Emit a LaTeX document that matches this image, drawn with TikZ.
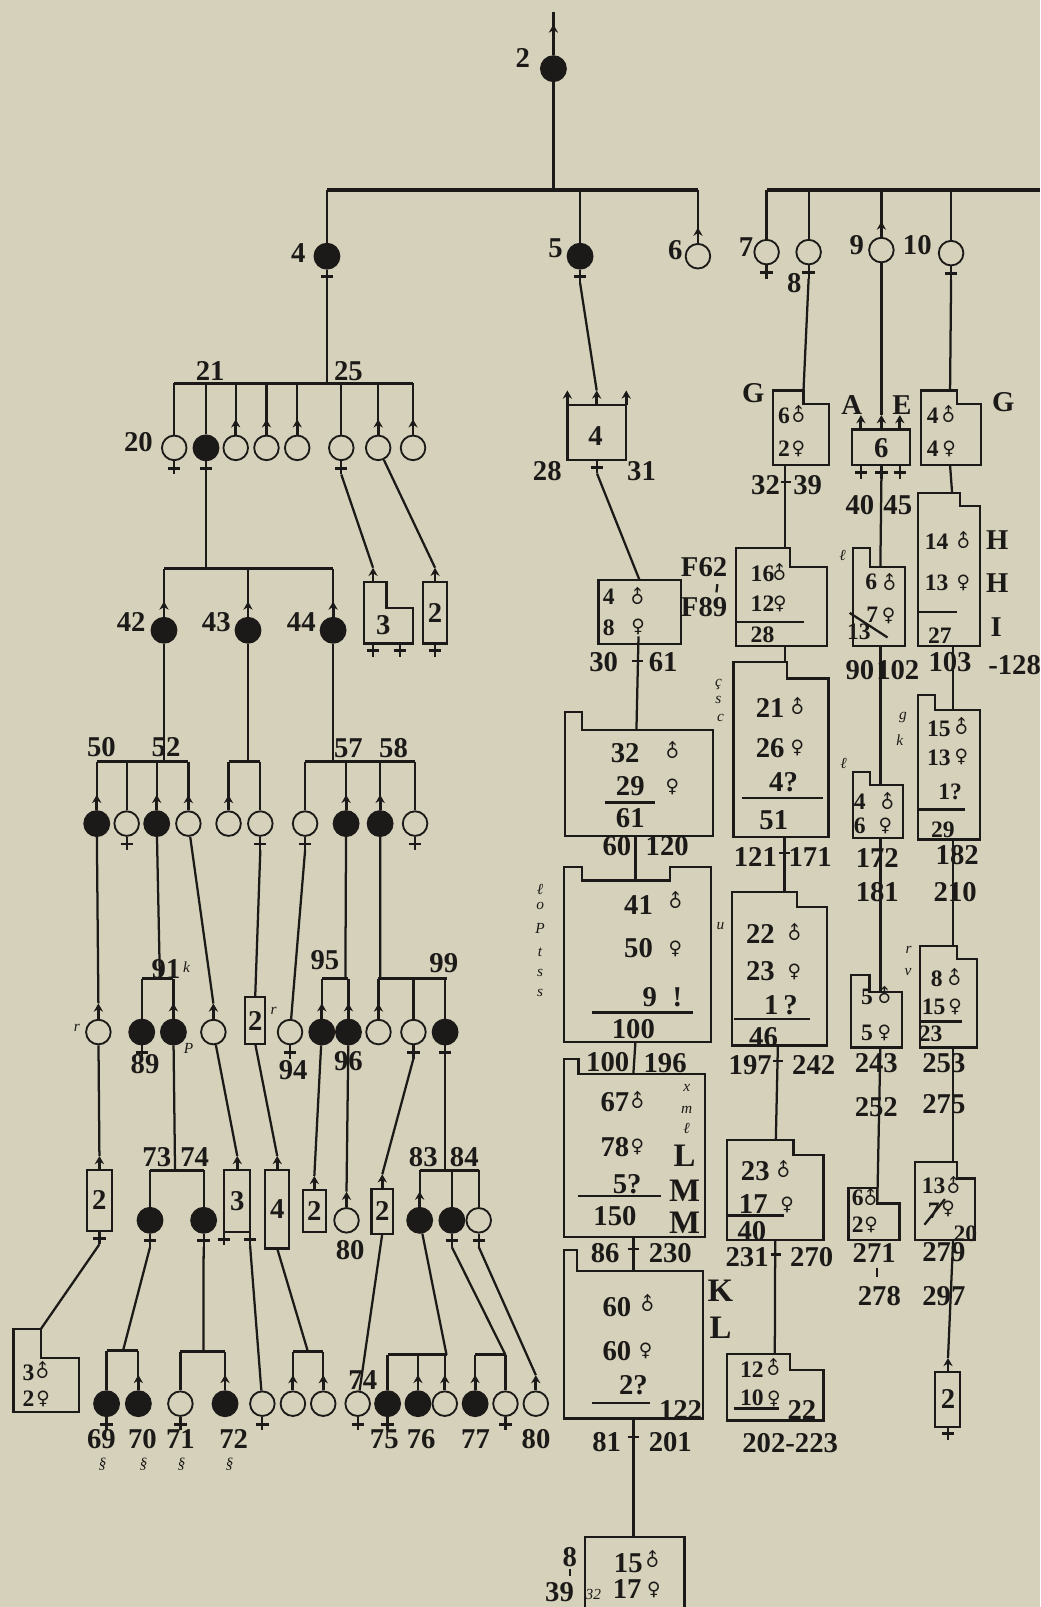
\documentclass[tikz,border=0pt]{standalone}
\usepackage{graphicx}
\usepackage{fontspec}
\setmainfont{Liberation Serif}
\newfontfamily\symf{DejaVu Sans}
\usetikzlibrary{arrows.meta}
\definecolor{bg}{RGB}{213,209,186}
\definecolor{ink}{RGB}{28,26,24}
\newcommand\numf{\bfseries\fontsize{14}{14}\selectfont}
\newcommand\smnf{\bfseries\fontsize{11.5}{11.5}\selectfont}
\newcommand\bigf{\bfseries\fontsize{16}{16}\selectfont}
\newcommand\tinyf{\itshape\fontsize{7.5}{7.5}\selectfont}
\newcommand\msym{\rotatebox[origin=c]{45}{\symf\fontsize{9}{9}\selectfont ♂}}
\newcommand\fsym{{\symf\fontsize{9}{9}\selectfont ♀}}
\newcounter{lbl}
\newcommand\T[3][num]{\stepcounter{lbl}\node[#1] (t\arabic{lbl}) at (#2) {#3};}
\newcommand\Mal[1]{\draw[marr] (#1.north) -- ++(0,-15) coordinate (#1-m);}
\newcommand\Fem[1]{\draw[ln] (#1.south) -- ++(0,13) coordinate (#1-f); \draw[cross] (#1.south) ++(-6,7) -- ++(12,0);}
\newcommand\MalAt[2]{\draw[marr] (#1) -- ++(0,-14) coordinate (#2);}
\newcommand\FemAt[2]{\draw[ln] (#1) -- ++(0,13) coordinate (#2); \draw[cross] (#1) ++(-6,7) -- ++(12,0);}
\newcommand\Tick[1]{\draw[ln] (#1) ++(-5,0) -- ++(10,0);}
\begin{document}
\begin{tikzpicture}[x=0.5pt,y=-0.5pt,
 ln/.style={draw=ink,line width=1.1pt},
 cross/.style={draw=ink,line width=1.4pt},
 bar/.style={draw=ink,line width=1.4pt},
 tbar/.style={draw=ink,line width=1.9pt},
 bx/.style={draw=ink,line width=1.1pt,line join=miter},
 ul/.style={draw=ink,line width=1.2pt},
 af/.style={circle,draw=ink,fill=ink,minimum size=12.5pt,inner sep=0pt,line width=0.6pt},
 uf/.style={circle,draw=ink,fill=bg,minimum size=12pt,inner sep=0pt,line width=0.9pt},
 num/.style={font=\numf,text=ink,inner sep=0pt},
 sm/.style={font=\smnf,text=ink,inner sep=0pt},
 sym/.style={text=ink,inner sep=0pt},
 big/.style={font=\bigf,text=ink,inner sep=0pt},
 tn/.style={font=\tinyf,text=ink,inner sep=0pt},
 marr/.style={draw=ink,line width=1.4pt,-{Stealth[length=4pt,width=4.5pt]}},
]
\fill[bg] (0,0) rectangle (1015,1568);
\useasboundingbox (0,0) rectangle (1015,1568);

% ================= TOP =================
\node[af] (n2) at (540,67) {};
\node[af] (n4) at (319,250) {};
\node[af] (n5) at (566,250) {};
\node[uf] (n6) at (681,250) {};
\node[uf] (n7) at (748,246) {};
\node[uf] (n8) at (789,246) {};
\node[uf] (n9) at (860,244) {};
\node[uf] (n10) at (928,247) {};
\coordinate (top) at (540,12);
\draw[ln] (top) -- (n2);
\draw[marr] (n2.north) -- ++(0,-30);
\coordinate (b1L) at (319,185); \coordinate (b1R) at (681,185); \coordinate (b1m) at (540,185);
\draw[tbar] (b1L) -- (b1R);
\draw[ln] (n2) -- (b1m);
\coordinate (b2L) at (748,185); \coordinate (b2R) at (1015,185);
\draw[tbar] (b2L) -- (b2R);
\foreach \n in {n4,n5,n6}{\draw[ln] (\n |- b1L) -- (\n);}
\foreach \n in {n7,n8,n9,n10}{\draw[ln] (\n |- b2L) -- (\n);}
\Mal{n6} \Mal{n9}
\Fem{n4} \Fem{n5} \Fem{n7} \Fem{n8} \Fem{n10}
\T{510,57}{2} \T{291,247}{4} \T{542,242}{5} \T{659,244}{6}
\T{728,241}{7} \T{775,276}{8} \T{836,239}{9} \T{895,239}{10}

% ================= LEFT: children of 4 =================
\node[uf] (c20) at (170,437) {};
\node[af] (c21) at (201,437) {};
\node[uf] (c22) at (230,437) {};
\node[uf] (c23) at (260,437) {};
\node[uf] (c24) at (290,437) {};
\node[uf] (c25) at (333,437) {};
\node[uf] (c26) at (369,437) {};
\node[uf] (c27) at (403,437) {};
\coordinate (b3L) at (170,374); \coordinate (b3R) at (403,374); \coordinate (b3m) at (319,374);
\draw[bar] (b3L) -- (b3R);
\draw[ln] (n4-f) -- (b3m);
\foreach \n in {c20,c21,c22,c23,c24,c25,c26,c27}{\draw[ln] (\n |- b3L) -- (\n);}
\Mal{c22} \Mal{c23} \Mal{c24} \Mal{c26} \Mal{c27}
\Fem{c20} \Fem{c21} \Fem{c25}
\T{135,431}{20} \T{205,362}{21} \T{340,362}{25}

% children of 21
\node[af] (c42) at (160,615) {};
\node[af] (c43) at (242,615) {};
\node[af] (c44) at (325,615) {};
\coordinate (b4L) at (160,555); \coordinate (b4R) at (325,555);
\draw[bar] (b4L) -- (b4R);
\draw[ln] (c21-f) -- (c21 |- b4L);
\foreach \n in {c42,c43,c44}{\draw[ln] (\n |- b4L) -- (\n); \Mal{\n}}
\T{128,607}{42} \T{211,607}{43} \T{294,607}{44}

% box 3 and box 2 (from 25 group)
\draw[bx] (355,568) -- (377,568) -- (377,593) -- (403,593) -- (403,628) -- (355,628) -- cycle;
\coordinate (bx3t) at (364,568);
\MalAt{bx3t}{bx3m}
\FemAt{364,628}{bx3f1} \FemAt{390,628}{bx3f2}
\draw[ln] (c25-f) -- (bx3m);
\T{374,610}{3}
\draw[bx] (413,568) rectangle (436,628);
\MalAt{424.5,568}{bx2am}
\FemAt{424.5,628}{bx2af}
\draw[ln] (c26) -- (bx2am);
\T{424.5,598}{2}

% ================= row of 50..58 =================
\node[af] (c50a) at (94.4,803.6) {};
\node[uf] (c50b) at (123.6,803.6) {};
\node[af] (c50c) at (152.9,803.6) {};
\node[uf] (c50d) at (183.8,803.6) {};
\node[uf] (c43a) at (223,803.6) {};
\node[uf] (c43b) at (254,803.6) {};
\node[uf] (c57a) at (297.7,803.6) {};
\node[af] (c57b) at (337.7,803.6) {};
\node[af] (c57c) at (370.9,803.6) {};
\node[uf] (c57d) at (405,803.6) {};
\coordinate (b50L) at (94.4,743.4); \coordinate (b50R) at (183.8,743.4);
\coordinate (b43L) at (223,743.4); \coordinate (b43R) at (254,743.4);
\coordinate (b57L) at (297.7,743.4); \coordinate (b57R) at (405,743.4);
\draw[bar] (b50L) -- (b50R); \draw[bar] (b43L) -- (b43R); \draw[bar] (b57L) -- (b57R);
\draw[ln] (c42) -- (c42 |- b50L);
\draw[ln] (c43) -- (c43 |- b43L);
\draw[ln] (c44) -- (c44 |- b57L);
\foreach \n in {c50a,c50b,c50c,c50d,c43a,c43b,c57a,c57b,c57c,c57d}{\draw[ln] (\n |- b50L) -- (\n);}
\Mal{c50a} \Mal{c50c} \Mal{c50d} \Mal{c43a} \Mal{c57b} \Mal{c57c}
\Fem{c50b} \Fem{c43b} \Fem{c57a} \Fem{c57d}
\T{99,729}{50} \T{162,729}{52} \T{340,730}{57} \T{384,730}{58}

% ================= row ~1007 =================
\node[uf] (cr) at (96,1007) {};
\node[af] (c89) at (138.3,1007) {};
\node[af] (cP) at (169.2,1007) {};
\node[uf] (c208) at (208.2,1007) {};
\node[uf] (c94) at (283,1007) {};
\node[af] (c95a) at (314,1007) {};
\node[af] (c96) at (340,1007) {};
\node[uf] (c99a) at (369.3,1007) {};
\node[uf] (c99b) at (403.4,1007) {};
\node[af] (c99c) at (434.3,1007) {};
\Mal{cr} \Mal{cP} \Mal{c208} \Mal{c95a} \Mal{c96} \Mal{c99a}
\Fem{c89} \Fem{c94} \Fem{c99b} \Fem{c99c}
\coordinate (b91L) at (138.3,954.9); \coordinate (b91R) at (169.2,954.9); \coordinate (b91m) at (156,954.9);
\coordinate (b95L) at (314,954.9); \coordinate (b95R) at (340,954.9); \coordinate (b95m) at (337,954.9);
\coordinate (b99L) at (369.3,954.9); \coordinate (b99R) at (436,954.9); \coordinate (b99m) at (371,954.9);
\draw[bar] (b91L) -- (b91R); \draw[bar] (b95L) -- (b95R); \draw[bar] (b99L) -- (b99R);
\draw[ln] (c50c) -- (b91m);
\draw[ln] (c57b) -- (b95m);
\draw[ln] (c57c) -- (b99m);
\foreach \n in {c89,cP,c95a,c96,c99a,c99b,c99c}{\draw[ln] (\n |- b91L) -- (\n);}
\draw[ln] (c50a) -- (cr-m);
\draw[ln] (c50d) -- (c208-m);
\draw[ln] (c57a-f) -- (c94);
\draw[bx] (239.1,972.7) rectangle (258.6,1018.3);
\coordinate (b2mt) at (249,972.7); \coordinate (b2mb) at (249,1018.3);
\draw[ln] (c43b-f) -- (b2mt);
\T{249,996}{2}
\T[tn]{75,1003}{r} \T[tn]{267,986}{r} \T[tn]{184,1023}{P}
\T{141.5,1038}{89} \T{286,1044}{94} \T{317,937}{95} \T{340,1035}{96} \T{433,940}{99}
\T{162,946}{91} \T[tn]{182,944}{k}

% ================= row ~1142..1218 =================
\draw[bx] (84.7,1141.9) rectangle (109.1,1201.1);
\MalAt{97,1141.9}{b2Lm} \FemAt{97,1201.1}{b2Lf}
\draw[ln] (cr) -- (b2Lm);
\T{97,1171}{2}
\draw[bx] (13.2,1377.7) -- (13.2,1296.4) -- (40.1,1296.4) -- (40.1,1324.7) -- (77.4,1324.7) -- (77.4,1377.7) -- cycle;
\coordinate (b32Lt) at (40.1,1296.4);
\draw[ln] (b2Lf) -- (b32Lt);
\T[sm]{27.9,1339}{3} \T[sym]{42,1338}{\msym}
\T[sm]{27.9,1365}{2} \T[sym]{42,1365}{\fsym}

\node[af] (c73) at (146.4,1190.7) {};
\node[af] (c74) at (198.7,1190.7) {};
\coordinate (b73L) at (146.4,1141.9); \coordinate (b73R) at (198.7,1141.9); \coordinate (b73m) at (170.8,1141.9);
\draw[bar] (b73L) -- (b73R);
\draw[ln] (cP) -- (b73m);
\draw[ln] (c73 |- b73L) -- (c73); \draw[ln] (c74 |- b73L) -- (c74);
\Fem{c73} \Fem{c74}
\T{153,1129}{73} \T{190,1129}{74}

\draw[bx] (218.9,1141.9) rectangle (244,1202);
\MalAt{231.5,1141.9}{b3mm} \FemAt{218.9,1202}{b3mf1} \FemAt{244,1202}{b3mf2}
\draw[ln] (c208) -- (b3mm);
\T{231.5,1172}{3}
\draw[bx] (258.6,1141.9) rectangle (282.3,1218.3);
\MalAt{270.5,1141.9}{b4mm}
\coordinate (b4mb) at (270.5,1218.3);
\draw[ln] (b2mb) -- (b4mm);
\T{270.5,1180}{4}
\draw[bx] (295.6,1161.4) rectangle (317.9,1202);
\MalAt{306.7,1161.4}{b2nm}
\draw[ln] (c95a) -- (b2nm);
\T{306.7,1182}{2}
\node[uf] (c80) at (338.1,1190.7) {};
\Mal{c80}
\draw[ln] (c96) -- (c80-m);
\T{341.6,1220}{80}
\draw[bx] (362.5,1159.8) rectangle (383.4,1203.7);
\MalAt{373,1159.8}{b2rm}
\coordinate (b2rb) at (373,1203.7);
\draw[ln] (c99b-f) -- (b2rm);
\T{373,1182}{2}
\node[af] (c83) at (409.5,1190.7) {};
\node[af] (c84) at (440.9,1190.7) {};
\node[uf] (c84b) at (467.1,1190.7) {};
\coordinate (b83L) at (409.5,1141.9); \coordinate (b83R) at (467.1,1141.9); \coordinate (b83m) at (434.3,1141.9);
\draw[bar] (b83L) -- (b83R);
\draw[ln] (c99c-f) -- (b83m);
\foreach \n in {c83,c84,c84b}{\draw[ln] (\n |- b83L) -- (\n);}
\Mal{c83} \Fem{c84} \Fem{c84b}
\T{413,1129}{83} \T{453,1129}{84}

% ================= bottom row ~1369 =================
\node[af] (c69) at (104,1369.6) {};
\node[af] (c70) at (135,1369.6) {};
\node[uf] (c71) at (176,1369.6) {};
\node[af] (c72) at (219.6,1369.6) {};
\node[uf] (c256) at (256,1369.6) {};
\node[uf] (c285) at (285.8,1369.6) {};
\node[uf] (c315) at (315.4,1369.6) {};
\node[uf] (c74b) at (349,1369.6) {};
\node[af] (c75) at (378.2,1369.6) {};
\node[af] (c76) at (407.8,1369.6) {};
\node[uf] (c76b) at (434,1369.6) {};
\node[af] (c77) at (463.6,1369.6) {};
\node[uf] (c77b) at (493.2,1369.6) {};
\node[uf] (c80b) at (522.8,1369.6) {};
\Fem{c69} \Mal{c70} \Fem{c71} \Mal{c72} \Fem{c256} \Mal{c285} \Mal{c315}
\Fem{c74b} \Fem{c75} \Mal{c76} \Mal{c76b} \Mal{c77} \Fem{c77b} \Mal{c80b}
\coordinate (b69L) at (104,1318); \coordinate (b69R) at (135,1318); \coordinate (b69m) at (120,1318);
\coordinate (b71L) at (176,1319); \coordinate (b71R) at (219.6,1319); \coordinate (b71m) at (198.5,1319);
\coordinate (b285L) at (285.8,1319); \coordinate (b285R) at (315.4,1319); \coordinate (b285m) at (300.5,1319);
\coordinate (b75L) at (378.2,1322); \coordinate (b75R) at (435.7,1322);
\coordinate (b77L) at (463.6,1322); \coordinate (b77R) at (493.2,1322);
\draw[bar] (b69L) -- (b69R); \draw[bar] (b71L) -- (b71R); \draw[bar] (b285L) -- (b285R);
\draw[bar] (b75L) -- (b75R); \draw[bar] (b77L) -- (b77R);
\draw[ln] (c73-f) -- (b69m);
\draw[ln] (c74-f) -- (b71m);
\draw[ln] (b3mf2) -- (c256);
\draw[ln] (b4mb) -- (b285m);
\draw[ln] (b2rb) -- (c74b);
\draw[ln] (c83) -- (b75R);
\draw[ln] (c84-f) -- (b77R);
\draw[ln] (c84b-f) -- (c80b-m);
\foreach \n in {c69,c70}{\draw[ln] (\n |- b69L) -- (\n);}
\foreach \n in {c71,c72}{\draw[ln] (\n |- b71L) -- (\n);}
\foreach \n in {c285,c315}{\draw[ln] (\n |- b285L) -- (\n);}
\foreach \n in {c75,c76,c76b}{\draw[ln] (\n |- b75L) -- (\n);}
\foreach \n in {c77,c77b}{\draw[ln] (\n |- b77L) -- (\n);}
\T{99,1404}{69} \T{139,1404}{70} \T{176,1404}{71} \T{228,1404}{72}
\T{354,1347}{74} \T{375,1404}{75} \T{411,1404}{76} \T{464,1404}{77} \T{523,1404}{80}
\T[tn]{100,1429}{§} \T[tn]{140,1429}{§} \T[tn]{177,1429}{§} \T[tn]{224,1429}{§}

% ================= MIDDLE COLUMN =================
\draw[bx] (553.6,395) rectangle (611,449);
\MalAt{553.6,395}{b4a1} \MalAt{582.2,395}{b4am} \MalAt{611,395}{b4a3}
\FemAt{582.5,449}{b4f}
\draw[ln] (n5-f) -- (b4am);
\T{581,425}{4} \T{534,460}{28} \T{626,460}{31}

\draw[bx] (584,566) rectangle (664.6,628.5);
\coordinate (b48t) at (624,566); \coordinate (b48b) at (623,621);
\draw[ln] (b4f) -- (b48t);
\T[sm]{594,582}{4} \T[sym]{622.6,583}{\msym}
\T[sm]{594,613}{8} \T[sym]{622.6,612}{\fsym}
\T{589,646}{30} \T{647,646}{61}

\draw[bx] (551,816) -- (551,695) -- (568,695) -- (568,712) -- (696,712) -- (696,816) -- cycle;
\coordinate (b32t) at (621,712); \coordinate (b32b) at (620,816);
\draw[ln] (b48b) -- (b32t);
\Tick{622,645}
\T{610,735}{32} \T[sym]{656,733}{\msym}
\T{615,767}{29} \T[sym]{656,768}{\fsym}
\draw[ul] (590,783) -- (639,783);
\T{615,798}{61}
\T{602,826}{60} \T{651,826}{120}

\coordinate (b41t) at (620,859);
\draw[ln] (b32b) -- (b41t);
\draw[bx] (550,1017) -- (550,846) -- (568,846) -- (568,859) -- (654,859) -- (654,846) -- (694,846) -- (694,1017) -- cycle;
\T{623,883}{41} \T[sym]{659,879}{\msym}
\T{623,925}{50} \T[sym]{659,926}{\fsym}
\T{634,973}{9} \T{661,973}{!}
\draw[ul] (578,988) -- (676,988);
\T{618,1004}{100}
\T[tn]{527,868}{ℓ} \T[tn]{527,884}{o} \T[tn]{527,906}{P} \T[tn]{527,929}{t} \T[tn]{527,949}{s} \T[tn]{527,969}{s}
\T{593,1036}{100} \T{649,1037}{196}

\coordinate (b41b) at (620,1017); \coordinate (b67t) at (618,1047.6);
\draw[ln] (b41b) -- (b67t);
\draw[bx] (550,1207) -- (550,1033) -- (564.5,1033) -- (564.5,1047.6) -- (688,1047.6) -- (688,1207) -- cycle;
\T{600,1075}{67} \T[sym]{622,1074}{\msym}
\T{600,1119}{78} \T[sym]{622,1119}{\fsym}
\T{612,1155}{5?}
\draw[ul] (564,1167) -- (645,1167);
\T{600,1187}{150}
\T[big]{668,1128}{L} \T[big]{668,1162}{M} \T[big]{668,1193}{M}
\T[tn]{670,1062}{x} \T[tn]{670,1083}{m} \T[tn]{670,1101}{ℓ}
\T{590.5,1223}{86} \T{654,1223}{230}

\coordinate (b67b) at (618,1207); \coordinate (b60t) at (618,1240.5);
\draw[ln] (b67b) -- (b60t);
\Tick{618,1219}
\draw[bx] (550,1384) -- (550,1220) -- (563,1220) -- (563,1240.5) -- (686,1240.5) -- (686,1384) -- cycle;
\T{602,1275}{60} \T[sym]{632,1272}{\msym}
\T{602,1318}{60} \T[sym]{630,1318}{\fsym}
\T{618,1352}{2?}
\draw[ul] (578,1369) -- (634,1369);
\T{664,1376}{122}
\T[big]{703,1259}{K} \T[big]{703,1296}{L}
\T{592,1407}{81} \T{654,1407}{201}

\coordinate (b60b) at (618,1384); \coordinate (b15t) at (618,1500);
\draw[ln] (b60b) -- (b15t);
\Tick{618,1402}
\draw[bx] (571,1568) -- (571,1500) -- (668,1500) -- (668,1568);
\T{613,1525}{15} \T[sym]{637,1522}{\msym}
\T{612,1550}{17} \T[sym]{638,1551}{\fsym}
\T{556,1519}{8} \T{546,1553}{39} \T[tn]{579,1556}{32}
\draw[ln] (556,1531) -- (556,1538);

% ================= G column =================
\draw[bx] (754,454) -- (754,381) -- (784,381) -- (784,394) -- (809,394) -- (809,454) -- cycle;
\coordinate (bGt) at (784,381); \coordinate (bGb) at (766,454);
\draw[ln] (n8-f) -- (bGt);
\T[sm]{765,406}{6} \T[sym]{779,405}{\msym}
\T[sm]{765,438}{2} \T[sym]{779,438}{\fsym}
\T{735,384}{G}
\T{747,473}{32} \T{788,473}{39}
\Tick{767,470}

\coordinate (bFt) at (766,535);
\draw[ln] (bGb) -- (bFt);
\draw[bx] (718,630) -- (718,535) -- (771,535) -- (771,553) -- (807,553) -- (807,630) -- cycle;
\draw[ul] (718,607) -- (784,607);
\T[sm]{744,560}{16} \T[sym]{761,559}{\msym}
\T[sm]{744,589}{12} \T[sym]{761,589}{\fsym}
\T[sm]{744,619}{28}
\T{687,553}{F62} \T{687,592}{F89}
\draw[ln] (700,570) -- (699,578);

\coordinate (bFb) at (766,630); \coordinate (b21t) at (766,646);
\draw[ln] (bFb) -- (b21t);
\draw[bx] (715.7,816.6) -- (715.7,645.8) -- (767.8,645.8) -- (767.8,662) -- (808.4,662) -- (808.4,816.6) -- cycle;
\T{751.5,691}{21} \T[sym]{778,690}{\msym}
\T{751.5,730}{26} \T[sym]{778,730}{\fsym}
\T{764.5,763}{4?}
\draw[ul] (724,778.5) -- (803.5,778.5);
\T{755,800}{51}
\T[tn]{701,668}{ç} \T[tn]{701,683}{s} \T[tn]{703,701}{c}
\T{737,836}{121} \T{790.5,836}{171}

\coordinate (b21b) at (765.5,816.6); \coordinate (b22t) at (765.5,870.3);
\draw[ln] (b21b) -- (b22t);
\Tick{765.5,832}
\draw[bx] (714,1020) -- (714,870.3) -- (777.6,870.3) -- (777.6,884.9) -- (806.8,884.9) -- (806.8,1020) -- cycle;
\T{742,911}{22} \T[sym]{775,910}{\msym}
\T{742,948}{23} \T[sym]{775,948}{\fsym}
\T{762,981}{1\,?}
\draw[ul] (716,994) -- (790.5,994);
\T{745,1012}{46}
\T[tn]{703,904}{u}
\T{732,1039}{197} \T{794,1039}{242}

\coordinate (b22b) at (759,1020); \coordinate (b23t) at (757,1112);
\draw[ln] (b22b) -- (b23t);
\Tick{759,1035}
\draw[bx] (709.2,1209.6) -- (709.2,1112) -- (774.3,1112) -- (774.3,1127.3) -- (803.5,1127.3) -- (803.5,1209.6) -- cycle;
\T{737,1143}{23} \T[sym]{765,1142}{\msym}
\T{735,1175}{17} \T[sym]{768,1176}{\fsym}
\draw[ul] (709,1186) -- (764.5,1186);
\T{733.6,1201}{40}
\T{729,1226.5}{231} \T{792,1226.5}{270}

\coordinate (b23b) at (756.4,1209.6); \coordinate (b12t) at (756,1321);
\draw[ln] (b23b) -- (b12t);
\Tick{757,1224}
\draw[bx] (709.2,1386) -- (709.2,1321) -- (771,1321) -- (771,1337) -- (803.5,1337) -- (803.5,1386) -- cycle;
\T[sm]{733.6,1336}{12} \T[sym]{755,1335}{\msym}
\T[sm]{733.6,1364}{10} \T[sym]{755,1365}{\fsym}
\draw[ul] (715.7,1374.5) -- (759.6,1374.5);
\T{782.4,1376}{22}
\T{771,1408}{202-223}

% ================= A E column =================
\draw[bx] (831,419) rectangle (888,454);
\MalAt{840,419}{ae1} \MalAt{860,419}{ae2} \MalAt{878,419}{ae3}
\FemAt{840,454}{aef1} \FemAt{860,454}{aef2} \FemAt{878,454}{aef3}
\draw[ln] (n9) -- (ae2);
\T{860,437}{6} \T{831,395}{A} \T{880,395}{E}
\T{839,493}{40} \T{876,493}{45}

\coordinate (bLt) at (859,553);
\draw[ln] (aef2) -- (bLt);
\draw[bx] (832,630) -- (832,535) -- (849,535) -- (849,553) -- (883,553) -- (883,630) -- cycle;
\T[sm]{850,568}{6} \T[sym]{868,569}{\msym}
\T[sm]{851,600}{7} \T[sym]{867,601}{\fsym}
\T[sm]{838,616}{13}
\draw[ln] (829,598) -- (866,622);
\T[tn]{822,542}{ℓ}
\T{839,654}{90} \T{876,654}{102}

\coordinate (bLb) at (859,630); \coordinate (b46t) at (859,766);
\draw[ln] (bLb) -- (b46t);
\draw[bx] (832,818) -- (832,753) -- (849,753) -- (849,766) -- (881,766) -- (881,818) -- cycle;
\T[sm]{839,782}{4} \T[sym]{866,783}{\msym}
\T[sm]{839,806}{6} \T[sym]{864,806}{\fsym}
\T[tn]{823,745}{ℓ} \T[tn]{881,700}{g} \T[tn]{878,722}{k}
\T{856,837}{172} \T{856,870}{181}

\coordinate (b46b) at (859,818); \coordinate (b55t) at (859,968);
\draw[ln] (b46b) -- (b55t);
\draw[bx] (830,1022) -- (830,951) -- (848.5,951) -- (848.5,968) -- (880,968) -- (880,1022) -- cycle;
\T[sm]{846,973}{5} \T[sym]{863,972}{\msym}
\T[sm]{846,1008}{5} \T[sym]{863,1008}{\fsym}
\T{855,1037}{243} \T{855,1080}{252}

\coordinate (b55b) at (859,1022); \coordinate (b62t) at (856,1174.3);
\draw[ln] (b55b) -- (b62t);
\draw[bx] (828,1210) -- (828,1159.5) -- (855.6,1159.5) -- (855.6,1174.3) -- (877.7,1174.3) -- (877.7,1210) -- cycle;
\T[sm]{837,1169}{6} \T[sym]{850,1169}{\msym}
\T[sm]{837,1195}{2} \T[sym]{850,1195}{\fsym}
\T{853,1223}{271} \T{858,1265}{278}
\draw[ln] (856,1237) -- (856,1246);

% ================= H column =================
\draw[bx] (898.6,454) -- (898.6,381) -- (934,381) -- (934,394) -- (957.5,394) -- (957.5,454) -- cycle;
\coordinate (bG2t) at (927,381); \coordinate (bG2b) at (927,454);
\draw[ln] (n10-f) -- (bG2t);
\T[sm]{910,406}{4} \T[sym]{926,405}{\msym}
\T[sm]{910,438}{4} \T[sym]{926,438}{\fsym}
\T{979,392}{G}

\coordinate (bHt) at (929,481);
\draw[ln] (bG2b) -- (bHt);
\draw[bx] (896,630) -- (896,481) -- (937,481) -- (937,494) -- (956,494) -- (956,630) -- cycle;
\T[sm]{914,529}{14} \T[sym]{940,528}{\msym}
\T[sm]{914,569}{13} \T[sym]{940,569}{\fsym}
\draw[ul] (896,597) -- (934,597);
\T[sm]{917,620}{27}
\T{973,527}{H} \T{973,569}{H} \T{972,612}{I}
\T{927,646}{103} \T{990,649}{-128}

\coordinate (bHb) at (930,630); \coordinate (b15bt) at (930,693);
\draw[ln] (bHb) -- (b15bt);
\draw[bx] (896,819) -- (896,678) -- (912,678) -- (912,693) -- (956,693) -- (956,819) -- cycle;
\T[sm]{916,711}{15} \T[sym]{938,709}{\msym}
\T[sm]{916,739}{13} \T[sym]{938,739}{\fsym}
\T[sm]{927,773}{1?}
\draw[ul] (896,790) -- (942,790);
\T[sm]{920,810}{29}
\T{934,834}{182} \T{932,870}{210}

\coordinate (b15bb) at (930,819); \coordinate (b8t) at (930,923);
\draw[ln] (b15bb) -- (b8t);
\draw[bx] (897.3,1022) -- (897.3,923) -- (933.7,923) -- (933.7,936) -- (953.2,936) -- (953.2,1022) -- cycle;
\T[sm]{914,955}{8} \T[sym]{932,954}{\msym}
\T[sm]{911,982.6}{15} \T[sym]{932,982}{\fsym}
\draw[ul] (898,996.5) -- (939,996.5);
\T[sm]{908,1009}{23}
\T[tn]{886.5,927}{r} \T[tn]{886,948}{v}
\T{921,1037}{253} \T{921,1077}{275}

\coordinate (b8b) at (930,1022); \coordinate (b13t) at (930,1134);
\draw[ln] (b8b) -- (b13t);
\draw[bx] (893,1210) -- (893,1134) -- (933.7,1134) -- (933.7,1150) -- (951.6,1150) -- (951.6,1210) -- cycle;
\T[sm]{911,1157}{13} \T[sym]{931,1157}{\msym}
\T[sm]{911,1181}{7} \T[sym]{925,1180}{\fsym}
\draw[ln] (902,1195) -- (922,1170);
\T[sm]{942,1204}{20}
\T{921,1222}{279} \T{921,1265}{297}

\coordinate (b13b) at (930,1210);
\draw[bx] (912.6,1339) rectangle (937,1392);
\MalAt{925,1339}{b2cm} \FemAt{925,1392}{b2cf}
\draw[ln] (b13b) -- (b2cm);
\T{925,1365}{2}
\end{tikzpicture}
\end{document}
